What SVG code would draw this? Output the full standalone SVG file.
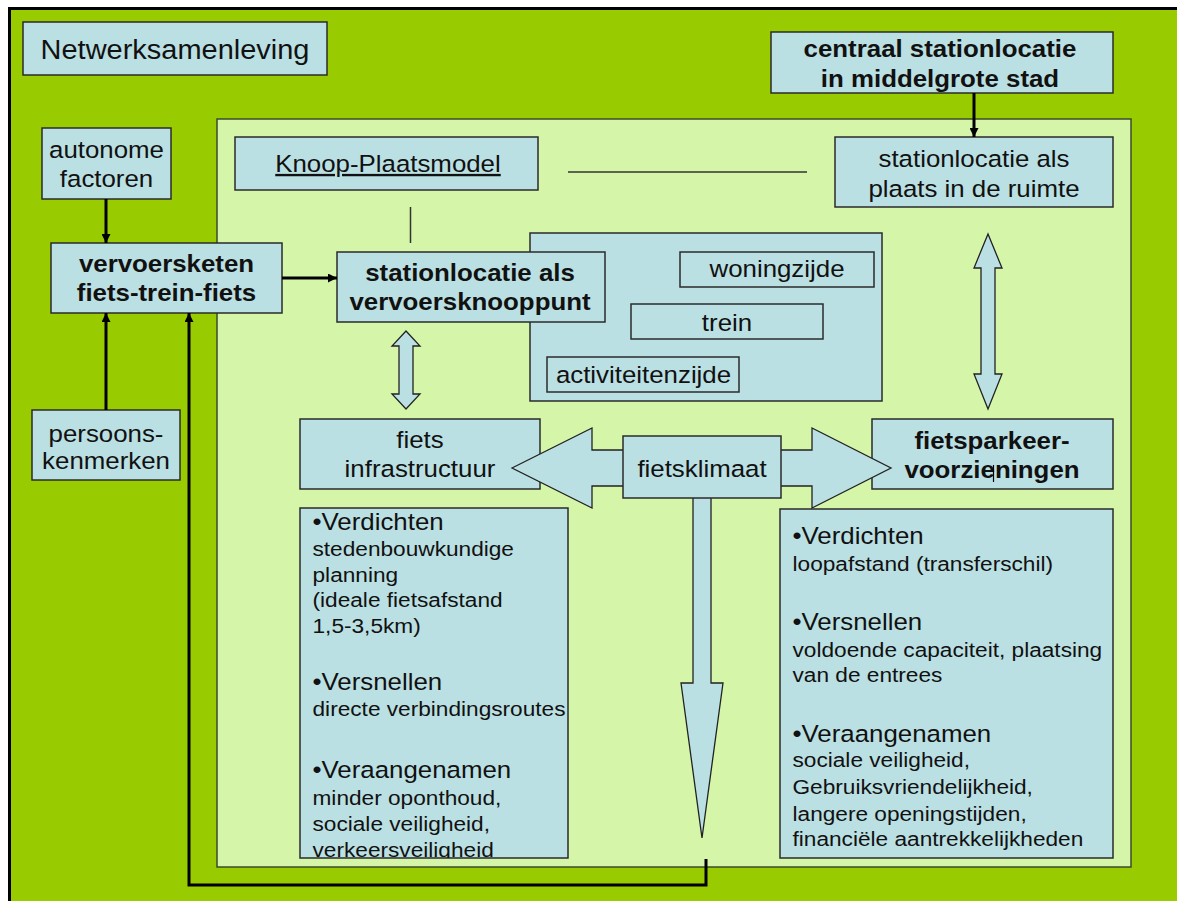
<svg xmlns="http://www.w3.org/2000/svg" width="1177" height="901" viewBox="0 0 1177 901">
<defs>
<style>
.box{fill:#BBE0E3;stroke:#2b2b2b;stroke-width:1.5}
.t{font-family:"Liberation Sans",Arial,sans-serif;font-size:23.5px;fill:#111;text-anchor:middle}
.b{font-weight:bold}
.l{text-anchor:start}
.sm{font-size:20.6px}
.conn{stroke:#000;stroke-width:3;fill:none}
.thin{stroke:#333;stroke-width:1.5;fill:none}
.blk{fill:#BBE0E3;stroke:#222;stroke-width:1.3;stroke-linejoin:miter}
</style>
<marker id="ah" viewBox="0 0 10 10" refX="10" refY="5" markerWidth="9" markerHeight="9" markerUnits="userSpaceOnUse" orient="auto">
<path d="M0,0 L10,5 L0,10 z" fill="#000"/>
</marker>
<clipPath id="clipL"><rect x="300" y="508" width="268" height="350"/></clipPath>
</defs>
<rect width="1177" height="901" fill="#fff"/>
<g id="background">
<rect x="9.5" y="8.5" width="1200" height="1000" fill="#99CC00" stroke="#000" stroke-width="3"/>
<rect x="217" y="119" width="914" height="748" fill="#D5F5A8" stroke="#3c4a2c" stroke-width="1.5"/>
</g>
<g id="n-netwerk">
<rect class="box" x="23" y="22" width="304" height="53"/>
<text class="t" style="font-size:28px" transform="matrix(1.035 0 0 1 175 0)" x="0" y="59">Netwerksamenleving</text>
</g>
<g id="n-centraal">
<rect class="box" x="771" y="32" width="342" height="61"/>
<text class="t b" transform="matrix(1.1 0 0 1 940 0)"><tspan x="0" y="57">centraal stationlocatie</tspan><tspan x="0" y="87">in middelgrote stad</tspan></text>
</g>
<g id="n-plaats">
<rect class="box" x="835" y="137" width="278" height="70"/>
<text class="t" transform="matrix(1.1 0 0 1 974 0)"><tspan x="0" y="167">stationlocatie als</tspan><tspan x="0" y="197">plaats in de ruimte</tspan></text>
</g>
<g id="n-knoop">
<rect class="box" x="235" y="137" width="303" height="53"/>
<text class="t" style="text-decoration:underline" transform="matrix(1.1 0 0 1 388 0)" x="0" y="172">Knoop-Plaatsmodel</text>
</g>
<g id="n-autonome">
<rect class="box" x="42" y="128" width="129" height="71"/>
<text class="t" transform="matrix(1.1 0 0 1 106.5 0)"><tspan x="0" y="158">autonome</tspan><tspan x="0" y="187">factoren</tspan></text>
</g>
<g id="n-vervoersketen">
<rect class="box" x="51" y="243" width="231" height="70"/>
<text class="t b" transform="matrix(1.1 0 0 1 166.5 0)"><tspan x="0" y="272">vervoersketen</tspan><tspan x="0" y="301">fiets-trein-fiets</tspan></text>
</g>
<g id="n-persoons">
<rect class="box" x="32" y="410" width="148" height="70"/>
<text class="t" transform="matrix(1.1 0 0 1 106 0)"><tspan x="0" y="442">persoons-</tspan><tspan x="0" y="469">kenmerken</tspan></text>
</g>
<g id="n-station-panel">
<rect class="box" x="530" y="233" width="352" height="168"/>
<g id="n-woningzijde">
<rect class="box" x="680" y="252" width="194" height="35"/>
<text class="t" transform="matrix(1.1 0 0 1 777 0)" x="0" y="277">woningzijde</text>
</g>
<g id="n-trein">
<rect class="box" x="631" y="304" width="192" height="35"/>
<text class="t" transform="matrix(1.1 0 0 1 727 0)" x="0" y="331">trein</text>
</g>
<g id="n-activiteiten">
<rect class="box" x="547" y="357" width="192" height="35"/>
<text class="t" transform="matrix(1.1 0 0 1 643.5 0)" x="0" y="383">activiteitenzijde</text>
</g>
</g>
<g id="n-knooppunt">
<rect class="box" x="337" y="252" width="268" height="70"/>
<text class="t b" transform="matrix(1.1 0 0 1 470 0)"><tspan x="0" y="281">stationlocatie als</tspan><tspan x="0" y="310">vervoersknooppunt</tspan></text>
</g>
<g id="n-fietsinfra">
<rect class="box" x="300" y="419" width="240" height="70"/>
<text class="t" transform="matrix(1.1 0 0 1 420 0)"><tspan x="0" y="448">fiets</tspan><tspan x="0" y="477">infrastructuur</tspan></text>
</g>
<g id="n-fietsparkeer">
<rect class="box" x="872" y="419" width="241" height="70"/>
<text class="t b" transform="matrix(1.1 0 0 1 992 0)"><tspan x="0" y="449">fietsparkeer-</tspan><tspan x="0" y="478">voorzieningen</tspan></text>
<line x1="993.5" y1="465" x2="993.5" y2="482" stroke="#000" stroke-width="1.2"/>
</g>
<g id="n-text-left">
<rect class="box" x="300" y="508" width="268" height="350"/>
<g clip-path="url(#clipL)">
<text class="t l" transform="matrix(1.1 0 0 1 312.5 0)">
<tspan x="0" y="530">•Verdichten</tspan>
<tspan class="sm" x="0" y="556">stedenbouwkundige</tspan>
<tspan class="sm" x="0" y="582">planning</tspan>
<tspan class="sm" x="0" y="607">(ideale fietsafstand</tspan>
<tspan class="sm" x="0" y="633">1,5-3,5km)</tspan>
<tspan x="0" y="690">•Versnellen</tspan>
<tspan class="sm" x="0" y="716">directe verbindingsroutes</tspan>
<tspan x="0" y="778">•Veraangenamen</tspan>
<tspan class="sm" x="0" y="805">minder oponthoud,</tspan>
<tspan class="sm" x="0" y="831">sociale veiligheid,</tspan>
<tspan class="sm" x="0" y="857">verkeersveiligheid</tspan>
</text>
</g>
</g>
<g id="n-text-right">
<rect class="box" x="780" y="509" width="333" height="349"/>
<text class="t l" transform="matrix(1.1 0 0 1 792.5 0)">
<tspan x="0" y="544">•Verdichten</tspan>
<tspan class="sm" x="0" y="571">loopafstand (transferschil)</tspan>
<tspan x="0" y="630">•Versnellen</tspan>
<tspan class="sm" x="0" y="657">voldoende capaciteit, plaatsing</tspan>
<tspan class="sm" x="0" y="682">van de entrees</tspan>
<tspan x="0" y="742">•Veraangenamen</tspan>
<tspan class="sm" x="0" y="767">sociale veiligheid,</tspan>
<tspan class="sm" x="0" y="794">Gebruiksvriendelijkheid,</tspan>
<tspan class="sm" x="0" y="821">langere openingstijden,</tspan>
<tspan class="sm" x="0" y="846">financiële aantrekkelijkheden</tspan>
</text>
</g>
<g id="connectors">
<line class="thin" x1="410.5" y1="207" x2="410.5" y2="243"/>
<line class="thin" x1="568" y1="172" x2="807" y2="172"/>
<line class="conn" x1="106" y1="199" x2="106" y2="243" marker-end="url(#ah)"/>
<line class="conn" x1="106" y1="410" x2="106" y2="313" marker-end="url(#ah)"/>
<line class="conn" x1="282" y1="278" x2="337" y2="278" marker-end="url(#ah)"/>
<line class="conn" x1="974" y1="93" x2="974" y2="137" marker-end="url(#ah)"/>
<path class="conn" d="M706,859 V885 H189 V313" marker-end="url(#ah)"/>
<polygon class="blk" points="406,331 420,346 413,346 413,394 420,394 406,409 392,394 399,394 399,346 392,346"/>
<polygon class="blk" points="988,234 1002,268 995,268 995,374 1002,374 988,409 974,374 981,374 981,268 974,268"/>
<polygon class="blk" points="693,490 711,490 711,683 723,683 702,838 681,683 693,683"/>
<polygon class="blk" points="512,468 592,428 592,450 812,450 812,428 891,468 812,508 812,486 592,486 592,508"/>
</g>
<g id="n-fietsklimaat">
<rect class="box" x="623" y="436" width="158" height="62"/>
<text class="t" transform="matrix(1.1 0 0 1 702 0)" x="0" y="477">fietsklimaat</text>
</g>
</svg>
